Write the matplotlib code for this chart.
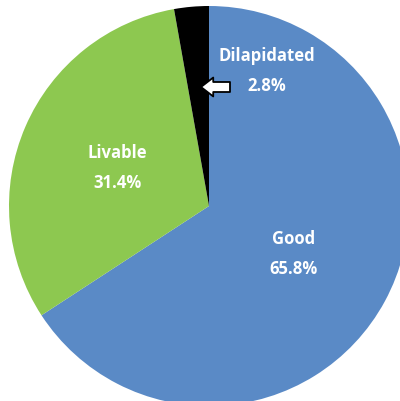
import matplotlib.pyplot as plt

# data
labels = ['Good', 'Livable', 'Dilapidated']
shares = [65.8, 31.4, 2.8]
colors = ['#5A8AC6', '#8DC850', '#000000']

fig = plt.figure(figsize=(4.0, 4.02), dpi=100)
ax = fig.add_axes([0, 0, 1, 1])

ax.pie(shares, colors=colors, startangle=90, counterclock=False,
       radius=1.0, wedgeprops=dict(linewidth=0))

# pie centre at (209, 207) px, radius 200 px
ax.set_xlim(-209 / 200, (400 - 209) / 200)
ax.set_ylim(-(402 - 207) / 200, 207 / 200)
ax.set_aspect('equal')
ax.axis('off')

txt = dict(color='white', fontsize=12, fontweight='bold', ha='center',
           va='center', linespacing=1.8, family=['Open Sans', 'DejaVu Sans'])
ax.text((294 - 209) / 200, (207 - 254) / 200,
        f'{labels[0]}\n{shares[0]}%', **txt)
ax.text((117 - 209) / 200, (207 - 168) / 200,
        f'{labels[1]}\n{shares[1]}%', **txt)
ax.text((267 - 209) / 200, (207 - 71) / 200,
        f'{labels[2]}\n{shares[2]}%', **txt)

# hollow arrow pointing at the small slice
ax.annotate('', xy=((201 - 209) / 200, (207 - 88) / 200),
            xytext=((230 - 209) / 200, (207 - 88) / 200),
            arrowprops=dict(arrowstyle='simple,head_length=0.55,head_width=0.85,tail_width=0.45',
                            mutation_scale=16, shrinkA=0, shrinkB=0,
                            fc='white', ec='black', lw=1.3))

fig.savefig('out.png', dpi=100)
